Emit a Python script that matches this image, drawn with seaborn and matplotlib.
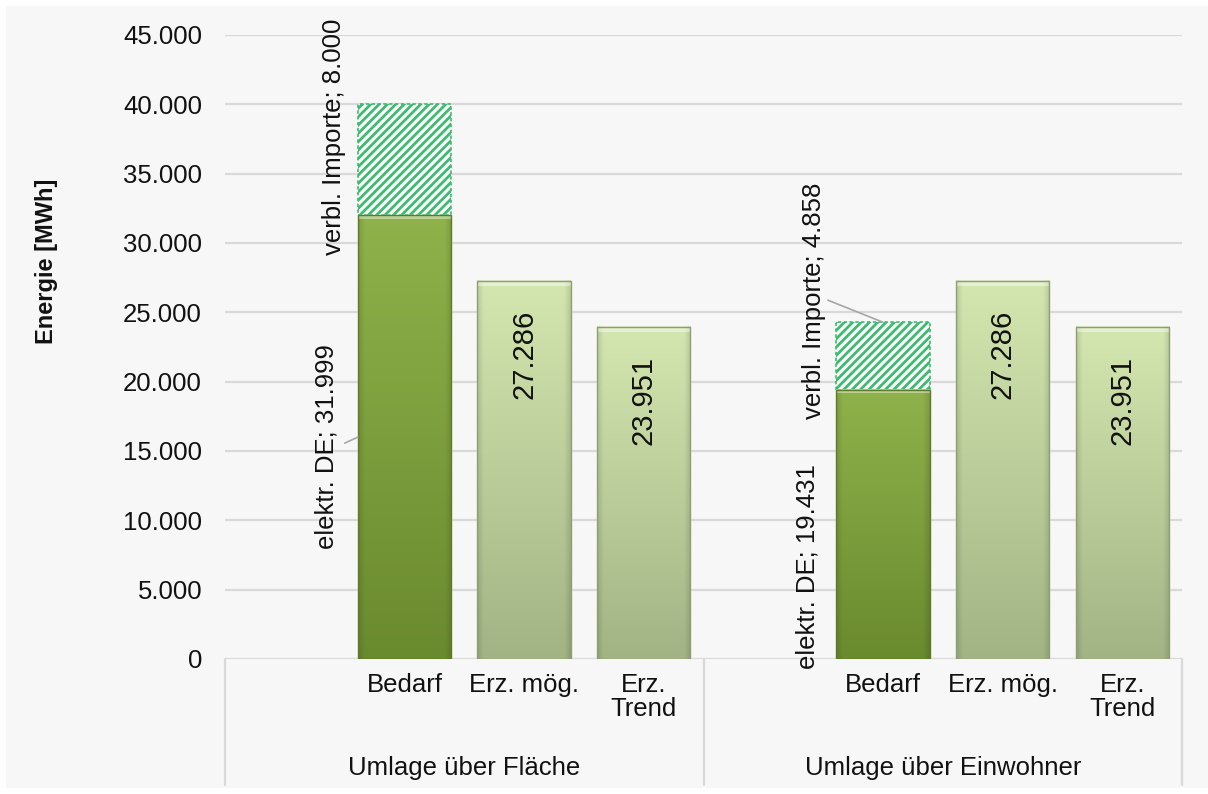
import numpy as np
import pandas as pd
import matplotlib
matplotlib.use("Agg")
import matplotlib.pyplot as plt
import matplotlib.transforms as mtransforms
from matplotlib.patches import Rectangle
from matplotlib.colors import to_rgb
import seaborn as sns

# ---------------- data ----------------
groups = ["Umlage über Fläche", "Umlage über Einwohner"]
subcats = ["Bedarf", "Erz. mög.", "Erz.\nTrend"]
elektr_de = [31999, 19431]
importe = [8000, 4858]
erz_moeg = [27286, 27286]
erz_trend = [23951, 23951]
y_ticks = [0, 5000, 10000, 15000, 20000, 25000, 30000, 35000, 40000, 45000]

# ---------------- style ----------------
sns.set_theme(style="white")
plt.rcParams["font.family"] = ["Liberation Sans", "DejaVu Sans"]
plt.rcParams["hatch.linewidth"] = 2.0

DPI = 100
W_PX, H_PX = 1208, 794
fig = plt.figure(figsize=(W_PX / DPI, H_PX / DPI), dpi=DPI, facecolor="white")
fig.patches.append(Rectangle((6 / W_PX, 6 / H_PX), 1 - 6 / W_PX, (788 - 6) / H_PX,
                             transform=fig.transFigure, facecolor="#f7f7f7",
                             edgecolor="none", zorder=-10))
ax = fig.add_axes([225 / W_PX, 1 - 659 / H_PX, 957 / W_PX, 624 / H_PX])
ax.set_facecolor("none")

# slot order: one empty slot at the start of each group
order, tick_labels = [], []
for g in groups:
    order.append(g + "|")
    tick_labels.append("")
    for s in subcats:
        order.append(g + "|" + s)
        tick_labels.append(s)

rows_base, rows_imp = [], []
for gi, g in enumerate(groups):
    rows_base.append({"slot": g + "|" + subcats[0], "value": elektr_de[gi], "kind": "dark"})
    rows_base.append({"slot": g + "|" + subcats[1], "value": erz_moeg[gi], "kind": "light"})
    rows_base.append({"slot": g + "|" + subcats[2], "value": erz_trend[gi], "kind": "light"})
    rows_imp.append({"slot": g + "|" + subcats[0], "total": elektr_de[gi] + importe[gi]})
df_base = pd.DataFrame(rows_base)
df_imp = pd.DataFrame(rows_imp)

BAR_W = 0.78
HATCH_GREEN = "#3dbb6e"

# import segments (hatched)
sns.barplot(data=df_imp, x="slot", y="total", order=order, color="white",
            width=BAR_W, saturation=1, errorbar=None, ax=ax, zorder=2)
imp_container = ax.containers[-1]
imp_patches = [p for p in imp_container if p.get_height() > 0]
for p, base_val in zip(imp_patches, elektr_de):
    top = p.get_height()
    p.set_y(base_val)
    p.set_height(top - base_val)
    p.set_hatch("////")
    p.set_edgecolor(HATCH_GREEN)
    p.set_facecolor("white")
    p.set_linestyle((0, (2, 1.5)))
    p.set_linewidth(1.2)

# base bars
sns.barplot(data=df_base, x="slot", y="value", hue="kind", order=order,
            palette={"dark": "#7a9c38", "light": "#c0d49e"}, dodge=False,
            width=BAR_W, saturation=1, errorbar=None, legend=False, ax=ax, zorder=2)

ax.set_xlim(-0.5, len(order) - 0.5)
ax.set_ylim(0, 45000)

# gradient fill for base bars
colors = {
    "dark": (to_rgb("#8fb24b"), to_rgb("#6a8a2e"), "#5c7a27"),
    "light": (to_rgb("#d4e7b0"), to_rgb("#a2b484"), "#8c9e72"),
}
px_per_unit = 624 / 45000.0
base_patches = []
for cont in ax.containers[1:]:
    for p in cont:
        if p.get_height() > 0:
            base_patches.append(p)
for p in base_patches:
    x0, y0, w, h = p.get_x(), p.get_y(), p.get_width(), p.get_height()
    kind = "dark" if abs(h - elektr_de[0]) < 1 or abs(h - elektr_de[1]) < 1 else "light"
    top_c, bot_c, edge_c = colors[kind]
    Hp = max(int(h * px_per_unit), 2)
    Wp = 93
    t = np.linspace(0, 1, Hp)[:, None, None]
    img = np.array(bot_c)[None, None, :] * (1 - t) + np.array(top_c)[None, None, :] * t
    img = np.repeat(img, Wp, axis=1)
    u = np.linspace(0, 1, Wp)
    edge = np.clip(1 - np.minimum(u, 1 - u) / 0.07, 0, 1)[None, :, None]
    img = img * (1 - 0.12 * edge)
    # top bevel highlight
    nb = 6 if kind == "light" else 4
    img[-nb:, :, :] = img[-nb:, :, :] * 0.6 + 0.4
    img = np.clip(img, 0, 1)
    p.set_facecolor(bot_c)
    ax.imshow(img, extent=[x0, x0 + w, y0, y0 + h], origin="lower", aspect="auto",
              zorder=2.1, clip_path=p, clip_on=True, interpolation="bilinear")
    ax.add_patch(Rectangle((x0, y0), w, h, facecolor="none", edgecolor=edge_c,
                           linewidth=1.0, zorder=2.2))
ax.set_xlim(-0.5, len(order) - 0.5)
ax.set_ylim(0, 45000)
ax.set_aspect("auto")

# axes styling
for s in ax.spines.values():
    s.set_visible(False)
ax.set_yticks(y_ticks)
ax.set_yticklabels([f"{v:,}".replace(",", ".") for v in y_ticks])
ax.yaxis.grid(True, color="#d9d9d9", linewidth=1.6)
ax.xaxis.grid(False)
ax.set_axisbelow(True)
ax.tick_params(axis="y", length=0, pad=16.5, labelsize=18.5, labelcolor="#111111")
ax.set_xticks(range(len(order)))
ax.set_xticklabels(tick_labels)
ax.tick_params(axis="x", length=0, pad=10, labelsize=18.5, labelcolor="#111111")
for lbl in ax.get_xticklabels():
    lbl.set_linespacing(1.0)
ax.set_xlabel("")
ax.set_ylabel("")

fig.text(47 / W_PX, 1 - 261 / H_PX, "Energie [MWh]", rotation=90, ha="center",
         va="center", fontsize=17, fontweight="bold", color="#111111")

# category box lines
trans = mtransforms.blended_transform_factory(ax.transData, ax.transAxes)
box_bottom = -(785 - 659) / 624
n_per_group = len(subcats) + 1
for k in range(len(groups) + 1):
    xb = -0.5 + k * n_per_group
    ax.plot([xb, xb], [0, box_bottom], transform=trans, color="#d9d9d9",
            linewidth=1.6, clip_on=False, zorder=1)
for gi, g in enumerate(groups):
    xc = -0.5 + gi * n_per_group + n_per_group / 2
    ax.text(xc, -(768 - 659) / 624, g, transform=trans, ha="center", va="center",
            fontsize=18.5, color="#111111")

# value labels inside the light bars
PT = 72.0 / DPI
for gi in range(len(groups)):
    for si, vals in ((1, erz_moeg), (2, erz_trend)):
        xpos = order.index(groups[gi] + "|" + subcats[si])
        ax.annotate(f"{vals[gi]:,}".replace(",", "."), xy=(xpos, vals[gi]),
                    xytext=(0, -29 * PT), textcoords="offset points",
                    rotation=90, ha="center", va="top", fontsize=21,
                    color="#111111", zorder=5)

# series labels for stacked bars (offsets in pixels from segment left-middle)
label_offsets = {
    (0, "elektr"): (-31, -9), (0, "import"): (-24, 23),
    (1, "elektr"): (-29, -42), (1, "import"): (-22, 55),
}
for gi in range(len(groups)):
    xpos = order.index(groups[gi] + "|" + subcats[0])
    left = xpos - BAR_W / 2
    mid_e = elektr_de[gi] / 2
    mid_i = elektr_de[gi] + importe[gi] / 2
    dx, dy = label_offsets[(gi, "elektr")]
    ax.annotate(f"elektr. DE; {elektr_de[gi]:,}".replace(",", "."), xy=(left, mid_e),
                xytext=(dx * PT, dy * PT), textcoords="offset points", rotation=90,
                ha="center", va="center", fontsize=18.5, color="#111111", zorder=5)
    dx, dy = label_offsets[(gi, "import")]
    ax.annotate(f"verbl. Importe; {importe[gi]:,}".replace(",", "."), xy=(left, mid_i),
                xytext=(dx * PT, dy * PT), textcoords="offset points", rotation=90,
                ha="center", va="center", fontsize=18.5, color="#111111", zorder=5)

# leader lines
lead = dict(arrowstyle="-", color="#a6a6a6", lw=1.2, shrinkA=0, shrinkB=0)
xpos0 = order.index(groups[0] + "|" + subcats[0])
ax.annotate("", xy=(xpos0 - BAR_W / 2, elektr_de[0] / 2), xytext=(-13 * PT, -6 * PT),
            textcoords="offset points", arrowprops=lead, zorder=4)
xpos1 = order.index(groups[1] + "|" + subcats[0])
ax.annotate("", xy=(xpos1, elektr_de[1] + importe[1]), xytext=(-55 * PT, 22 * PT),
            textcoords="offset points", arrowprops=lead, zorder=4)

fig.savefig("out.png", dpi=DPI, facecolor=fig.get_facecolor())
